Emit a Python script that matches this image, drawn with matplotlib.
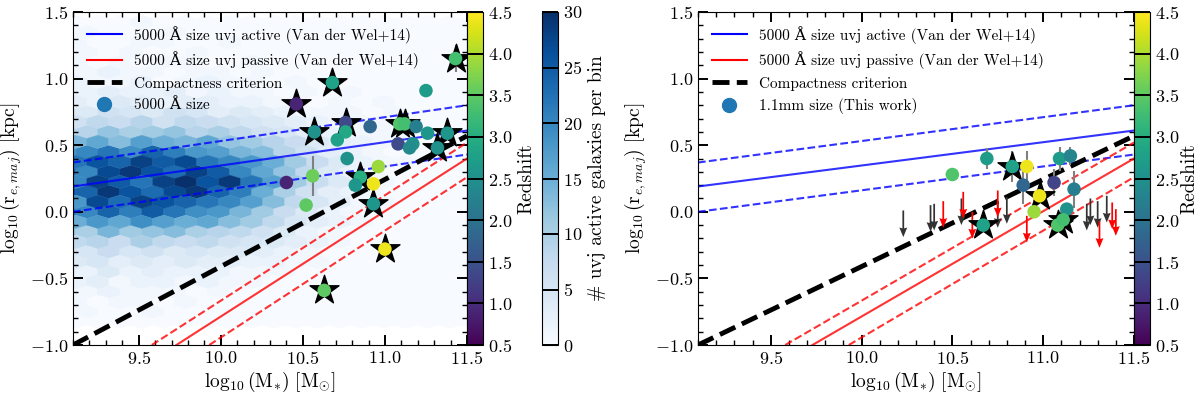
import numpy as np
import matplotlib
matplotlib.use("Agg")
import matplotlib.pyplot as plt
from matplotlib.ticker import MultipleLocator
from matplotlib.lines import Line2D

plt.rcParams['font.family'] = ['cmr10', 'DejaVu Serif']
plt.rcParams['mathtext.fontset'] = 'cm'
plt.rcParams['axes.formatter.use_mathtext'] = True

# --- relations (Van der Wel+14) and compactness criterion ---
line_mass = [9.1, 11.5]
active_mid = [0.19, 0.61]
active_hi = [0.37, 0.80]
active_lo = [0.00, 0.43]
compact_size = [-1.0, 0.57]
passive_mass_mid = [9.73, 11.5]
passive_mid = [-1.0, 0.40]
passive_mass_hi = [9.58, 11.5]
passive_hi = [-1.0, 0.52]
passive_mass_lo = [9.93, 11.5]
passive_lo = [-1.0, 0.26]

# --- left panel: 5000 A sizes ---
opt_mass = [11.43, 10.68, 10.46, 11.25, 10.57, 10.76, 10.76, 10.71, 10.91, 11.09,
            11.12, 11.19, 11.26, 11.38, 11.08, 11.17, 11.15, 11.32, 10.77, 10.40,
            10.56, 10.52, 10.96, 10.85, 10.82, 10.93, 10.93, 11.00, 10.63]
opt_size = [1.15, 0.97, 0.81, 0.91, 0.60, 0.67, 0.60, 0.54, 0.64, 0.66,
            0.66, 0.64, 0.59, 0.59, 0.51, 0.51, 0.48, 0.48, 0.40, 0.22,
            0.27, 0.05, 0.34, 0.26, 0.20, 0.21, 0.06, -0.28, -0.59]
opt_err = [0.10, 0, 0, 0, 0, 0, 0, 0, 0, 0,
           0, 0, 0, 0, 0, 0, 0, 0, 0, 0,
           0.15, 0, 0, 0, 0, 0, 0, 0, 0]
opt_z = [3.3, 2.8, 0.9, 2.7, 2.5, 1.4, 2.9, 2.8, 1.8, 3.4,
         3.3, 2.2, 2.6, 2.6, 1.4, 2.5, 2.4, 2.5, 2.5, 0.9,
         3.6, 3.5, 3.9, 3.0, 2.6, 4.4, 2.6, 4.4, 3.5]
opt_star = [1, 1, 1, 0, 1, 1, 0, 0, 0, 1,
            1, 0, 0, 1, 0, 0, 0, 1, 0, 0,
            0, 0, 0, 1, 0, 0, 1, 1, 1]

# --- right panel: 1.1mm sizes ---
mm_mass = [10.69, 10.50, 10.83, 10.91, 10.89, 11.06, 10.98, 10.95, 11.09, 11.15,
           11.17, 11.13, 11.08, 11.11, 10.67]
mm_size = [0.40, 0.28, 0.34, 0.34, 0.20, 0.22, 0.12, 0.00, 0.40, 0.42,
           0.17, 0.02, -0.10, -0.06, -0.10]
mm_err = [0.08, 0, 0.12, 0.12, 0.14, 0.10, 0, 0, 0.09, 0.07,
          0.14, 0, 0, 0, 0]
mm_z = [2.7, 3.4, 2.8, 4.4, 1.8, 1.3, 4.4, 3.9, 2.7, 2.3,
        2.2, 2.5, 3.4, 3.3, 2.8]
mm_star = [0, 0, 1, 0, 0, 0, 1, 0, 0, 0,
           0, 0, 1, 1, 1]

# upper limits
ul_black_mass = [10.23, 10.38, 10.40, 10.55, 10.75, 10.80, 11.24, 11.26, 11.30, 11.35]
ul_black_size = [0.01, 0.05, 0.06, 0.10, 0.08, 0.11, 0.06, 0.10, 0.08, 0.12]
ul_red_mass = [10.45, 10.56, 10.61, 10.75, 10.91, 11.31, 11.38, 11.40]
ul_red_size = [0.08, 0.15, 0.00, 0.16, -0.03, -0.07, 0.07, 0.02]
ul_length = 0.2

# --- uvj active galaxies, counts per hexagon (rows of the hex lattice) ---
hex_size_rows = [1.425, 1.35, 1.275, 1.2, 1.125, 1.05, 0.975, 0.9, 0.825, 0.75,
                 0.675, 0.6, 0.525, 0.45, 0.375, 0.3, 0.225, 0.15, 0.075, 0.0,
                 -0.075, -0.15, -0.225, -0.3, -0.375, -0.45, -0.525, -0.6, -0.675, -0.75,
                 -0.825]
hex_counts = [
    [0, 0, 0, 1, 0, 0, 0, 0, 0, 0, 0, 0, 0, 0, 0, 0],
    [0, 1, 0, 0, 0, 1, 0, 0, 0, 0, 0, 0, 0, 0, 0, 0],
    [1, 0, 0, 1, 1, 0, 0, 1, 0, 0, 0, 0, 0, 0, 0, 0],
    [0, 1, 0, 1, 0, 0, 1, 0, 0, 0, 0, 0, 0, 0, 0, 0],
    [1, 0, 1, 0, 1, 1, 0, 0, 1, 0, 0, 0, 0, 0, 0, 0],
    [1, 1, 2, 1, 1, 0, 1, 1, 0, 1, 0, 0, 0, 0, 0, 0],
    [2, 1, 1, 2, 0, 1, 2, 1, 1, 0, 1, 0, 0, 0, 0, 0],
    [2, 2, 3, 2, 2, 3, 1, 2, 1, 1, 0, 1, 0, 1, 0, 0],
    [3, 2, 4, 3, 2, 3, 3, 2, 2, 1, 1, 0, 1, 0, 1, 0],
    [5, 4, 6, 5, 4, 6, 5, 3, 4, 3, 2, 1, 1, 1, 0, 1],
    [6, 8, 7, 9, 6, 8, 7, 6, 5, 4, 3, 2, 1, 1, 1, 1],
    [10, 9, 12, 10, 11, 12, 9, 10, 8, 6, 5, 3, 2, 1, 1, 1],
    [14, 16, 13, 17, 15, 14, 16, 12, 11, 9, 7, 4, 3, 2, 1, 1],
    [18, 20, 22, 19, 24, 21, 18, 17, 14, 13, 9, 6, 3, 2, 1, 0],
    [22, 26, 24, 28, 25, 27, 22, 20, 18, 15, 11, 7, 4, 2, 1, 1],
    [24, 20, 27, 29, 26, 23, 28, 25, 20, 16, 12, 8, 4, 2, 1, 0],
    [20, 28, 25, 22, 28, 30, 26, 29, 22, 17, 11, 7, 4, 2, 1, 0],
    [26, 24, 29, 26, 23, 27, 29, 24, 21, 15, 10, 6, 3, 2, 1, 0],
    [18, 27, 23, 28, 26, 24, 22, 20, 17, 13, 8, 5, 3, 1, 1, 0],
    [22, 20, 24, 21, 25, 22, 19, 18, 14, 11, 7, 4, 2, 1, 0, 0],
    [15, 18, 16, 19, 17, 15, 16, 13, 11, 8, 5, 3, 2, 1, 0, 0],
    [12, 10, 14, 11, 12, 13, 10, 9, 8, 6, 4, 2, 1, 0, 0, 0],
    [8, 9, 7, 10, 8, 7, 8, 6, 5, 4, 3, 2, 1, 0, 0, 0],
    [6, 5, 7, 5, 6, 4, 5, 4, 4, 3, 2, 1, 0, 0, 0, 0],
    [4, 5, 3, 4, 3, 4, 3, 3, 2, 2, 1, 1, 0, 0, 0, 0],
    [3, 2, 4, 2, 3, 2, 2, 2, 1, 1, 1, 0, 0, 0, 0, 0],
    [2, 3, 1, 2, 2, 1, 2, 1, 1, 0, 0, 0, 0, 0, 0, 0],
    [1, 1, 2, 1, 1, 1, 0, 1, 0, 0, 0, 0, 0, 0, 0, 0],
    [1, 0, 1, 1, 0, 1, 0, 0, 0, 0, 0, 0, 0, 0, 0, 0],
    [0, 1, 0, 0, 1, 0, 0, 0, 0, 0, 0, 0, 0, 0, 0, 0],
    [0, 0, 0, 0, 0, 0, 0, 0, 0, 0, 0, 0, 0, 0, 0, 0],
]

# hexbin grid
hx_min, hx_max, hy_min, hy_max = 9.05, 11.596, -1.05, 1.5
hx_n, hy_n = 19, 17

W, H = 1200, 396
fig = plt.figure(figsize=(12, 3.96), dpi=100)
bot, hgt = 51 / H, 333 / H
ax1 = fig.add_axes([73 / W, bot, 394 / W, hgt])
cax1 = fig.add_axes([467 / W, bot, 16 / W, hgt])
cax2 = fig.add_axes([542 / W, bot, 16 / W, hgt])
ax2 = fig.add_axes([698 / W, bot, 436 / W, hgt])
cax3 = fig.add_axes([1134 / W, bot, 16 / W, hgt])

cmap_z = plt.get_cmap('viridis')
zmin, zmax = 0.5, 4.5

# background hexbin of active galaxies
sx = (hx_max - hx_min) / hx_n
sy = (hy_max - hy_min) / hy_n
hx, hy, hc = [], [], []
for r, row in zip(hex_size_rows, hex_counts):
    k = int(round((r - hy_min) / (sy / 2)))
    x0 = hx_min + (0 if k % 2 == 0 else sx / 2)
    full = list(row) + [0] * (hx_n + 1 - len(row))
    for i, c in enumerate(full):
        x = x0 + i * sx
        if x <= hx_max + 1e-6:
            hx.append(x)
            hy.append(r)
            hc.append(c)
hb = ax1.hexbin(hx, hy, C=hc, reduce_C_function=np.sum, gridsize=(hx_n, hy_n),
                extent=(hx_min, hx_max, hy_min, hy_max), cmap='Blues', vmin=0, vmax=30,
                linewidths=0.3, edgecolors='face', zorder=0)


def draw_relations(ax):
    ax.plot(line_mass, active_mid, color='blue', lw=1.5, alpha=0.8, zorder=2)
    ax.plot(line_mass, active_hi, color='blue', lw=1.5, ls='--', alpha=0.8, zorder=2)
    ax.plot(line_mass, active_lo, color='blue', lw=1.5, ls='--', alpha=0.8, zorder=2)
    ax.plot(passive_mass_mid, passive_mid, color='red', lw=1.5, alpha=0.8, zorder=2)
    ax.plot(passive_mass_hi, passive_hi, color='red', lw=1.5, ls='--', alpha=0.8, zorder=2)
    ax.plot(passive_mass_lo, passive_lo, color='red', lw=1.5, ls='--', alpha=0.8, zorder=2)
    ax.plot(line_mass, compact_size, color='black', lw=3.5, ls=(0, (3.5, 1.5)), zorder=3)


def draw_points(ax, mass, size, err, z, star):
    mass, size, err, z, star = map(np.asarray, (mass, size, err, z, star))
    has_err = err > 0
    ax.errorbar(mass[has_err], size[has_err], yerr=err[has_err], fmt='none',
                ecolor='grey', elinewidth=1.5, capsize=0, zorder=4)
    st = star == 1
    ax.scatter(mass[st], size[st], marker='*', s=480, color='black', zorder=5)
    sc = ax.scatter(mass, size, c=z, cmap=cmap_z, vmin=zmin, vmax=zmax, s=95,
                    edgecolors='none', zorder=6)
    return sc


def style_axes(ax):
    ax.set_xlim(9.1, 11.5)
    ax.set_ylim(-1.0, 1.5)
    ax.xaxis.set_major_locator(MultipleLocator(0.5))
    ax.xaxis.set_minor_locator(MultipleLocator(0.1))
    ax.yaxis.set_major_locator(MultipleLocator(0.5))
    ax.yaxis.set_minor_locator(MultipleLocator(0.1))
    ax.tick_params(which='both', direction='in', top=True, right=True, labelsize=13)
    ax.tick_params(which='major', length=7, width=1.4)
    ax.tick_params(which='minor', length=3.5, width=1.0)
    ax.set_xlabel(r'$\log_{10}(\mathrm{M}_{*})\ [\mathrm{M}_{\odot}]$', fontsize=14, labelpad=2)
    ax.set_ylabel(r'$\log_{10}(\mathrm{r}_{e,maj})\ [\mathrm{kpc}]$', fontsize=14, labelpad=4)


def legend(ax, point_label):
    handles = [
        Line2D([], [], color='blue', lw=1.5),
        Line2D([], [], color='red', lw=1.5),
        Line2D([], [], color='black', lw=3.5, ls=(0, (3.5, 1.5))),
        Line2D([], [], color='#1f77b4', marker='o', ls='none', markersize=10),
    ]
    labels = ['5000 Å size uvj active (Van der Wel+14)',
              '5000 Å size uvj passive (Van der Wel+14)',
              'Compactness criterion', point_label]
    ax.legend(handles, labels, loc='upper left', frameon=False, fontsize=11,
              handlelength=2.3, labelspacing=0.5)


def style_cbar(cb, label, pad):
    cb.ax.tick_params(which='both', direction='in', length=6, width=1.4,
                      left=True, right=True, labelsize=13)
    cb.ax.minorticks_off()
    cb.set_label(label, fontsize=14, labelpad=pad)


# left panel
draw_relations(ax1)
sc1 = draw_points(ax1, opt_mass, opt_size, opt_err, opt_z, opt_star)
style_axes(ax1)
legend(ax1, '5000 Å size')
cb1 = fig.colorbar(sc1, cax=cax1, ticks=np.arange(0.5, 4.51, 0.5))
style_cbar(cb1, 'Redshift', 4)
cb2 = fig.colorbar(hb, cax=cax2, ticks=np.arange(0, 31, 5))
style_cbar(cb2, '# uvj active galaxies per bin', 4)

# right panel
draw_relations(ax2)
for um, us, col in [(ul_black_mass, ul_black_size, '#333333'),
                    (ul_red_mass, ul_red_size, 'red')]:
    ax2.quiver(um, us, np.zeros(len(um)), -ul_length * np.ones(len(um)),
               angles='xy', scale_units='xy', scale=1, color=col, width=0.004,
               headwidth=4.5, headlength=5.5, headaxislength=5, zorder=4)
sc2 = draw_points(ax2, mm_mass, mm_size, mm_err, mm_z, mm_star)
style_axes(ax2)
legend(ax2, '1.1mm size (This work)')
cb3 = fig.colorbar(sc2, cax=cax3, ticks=np.arange(0.5, 4.51, 0.5))
style_cbar(cb3, 'Redshift', 1)

fig.savefig('out.png', dpi=100)
